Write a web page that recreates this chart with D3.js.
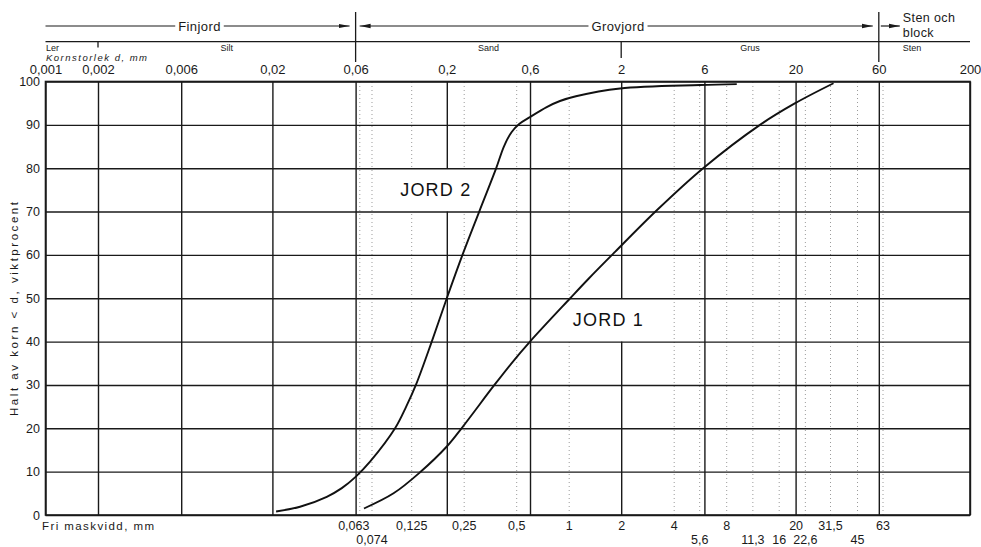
<!DOCTYPE html>
<html>
<head>
<meta charset="utf-8">
<script src="https://cdn.jsdelivr.net/npm/d3@7/dist/d3.min.js"></script>
<style>
    body { margin: 0; background: #fff; }
    svg { display: block; font-family: "Liberation Sans", Arial, sans-serif; }
</style>
</head>
<body>
<svg id="chart" width="981" height="547"></svg>
<script>
// grain sizes (mm) for the solid grid and the top labels
var majorSizes = [0.001, 0.002, 0.006, 0.02, 0.06, 0.2, 0.6, 2, 6, 20, 60, 200];
// sieve openings, bottom labels (two rows) and the faint dotted lines
var sieveRow1 = [0.063, 0.125, 0.25, 0.5, 1, 2, 4, 8, 20, 31.5, 63];
var sieveRow2 = [0.074, 5.6, 11.3, 16, 22.6, 45];
var sieveDotted = [0.063, 0.074, 0.125, 0.25, 0.5, 1, 4, 5.6, 8, 11.3, 16, 22.6, 31.5, 45, 63];
var percentTicks = [0, 10, 20, 30, 40, 50, 60, 70, 80, 90, 100];

// fraction names and their bounds
var fractionNames = ['Ler', 'Silt', 'Sand', 'Grus', 'Sten'];
var fractionBounds = [0.001, 0.002, 0.06, 2, 60, 200];
var groupNames = ['Finjord', 'Grovjord'];
var groupBounds = [0.001, 0.06, 60];

// grading curves
var jord1Size = [0.067, 0.099, 0.14, 0.2, 0.243, 0.375, 0.47, 0.6, 1.02, 1.3, 1.844, 3.2, 5.9, 12.5, 19.9, 33];
var jord1Pass = [1.5, 5, 9.8, 15.8, 20, 30, 35, 40, 50, 54.5, 60.7, 70.3, 80, 90, 95, 99.6];
var jord2Size = [0.021, 0.0288, 0.041, 0.05, 0.06, 0.0726, 0.101, 0.117, 0.133, 0.164, 0.2, 0.246, 0.307, 0.384, 0.425, 0.47, 0.52, 0.6, 0.748, 0.891, 1.1, 1.97, 5.66, 9.2];
var jord2Pass = [0.8, 1.9, 4.2, 6.2, 8.8, 12.3, 20, 25, 30, 40, 50, 60, 70, 80, 85, 88.3, 90.2, 91.8, 94.1, 95.5, 96.6, 98.4, 99.2, 99.4];
var curveNames = ['JORD 1', 'JORD 2'];
var curveLabelSize = [1.69, 0.173];
var curveLabelBand = [40, 70];

var svg = d3.select('#chart');
var plotLeft = 45.5, plotRight = 970, plotTop = 81.5, plotBottom = 515;

var x = d3.scaleLog().domain([0.001, 200]).range([plotLeft, plotRight]);
var y = d3.scaleLinear().domain([0, 100]).range([plotBottom, plotTop]);

var fmt = function(d)
{
    return String(d).replace('.', ',');
};

var ink = '#1a1a1a';
var font = '"Liberation Sans", Arial, sans-serif';

// arrow marker
svg.append('defs').append('marker')
    .attr('id', 'arrow')
    .attr('markerUnits', 'userSpaceOnUse')
    .attr('viewBox', '0 -3 11 6')
    .attr('refX', 11).attr('refY', 0)
    .attr('markerWidth', 11).attr('markerHeight', 6)
    .attr('orient', 'auto-start-reverse')
    .append('path')
    .attr('d', 'M0,-2.2L11,0L0,2.2Z')
    .attr('fill', ink);

var dottedLayer = svg.append('g');
var majorLayer = svg.append('g');
var maskLayer = svg.append('g');
var hGridLayer = svg.append('g');
var curveLayer = svg.append('g');
var labelLayer = svg.append('g');

// faint dotted sieve lines
var dotted = dottedLayer.append('g')
    .attr('transform', 'translate(0,' + plotBottom + ')')
    .call(d3.axisBottom(x).tickValues(sieveDotted).tickSize(-(plotBottom - plotTop)).tickFormat(''));
dotted.select('.domain').remove();
dotted.selectAll('line')
    .attr('stroke', '#9a9a9a')
    .attr('stroke-width', 1)
    .attr('stroke-dasharray', '1,3');

// solid vertical grid
var vGrid = majorLayer.append('g')
    .attr('transform', 'translate(0,' + plotBottom + ')')
    .call(d3.axisBottom(x).tickValues(majorSizes).tickSize(-(plotBottom - plotTop)).tickFormat(''));
vGrid.select('.domain').remove();
vGrid.selectAll('line').attr('stroke', ink).attr('stroke-width', 1.4);

// horizontal grid + percent labels
var yAxis = hGridLayer.append('g')
    .attr('transform', 'translate(' + plotLeft + ',0)')
    .call(d3.axisLeft(y).tickValues(percentTicks).tickSize(-(plotRight - plotLeft)).tickPadding(5.5));
yAxis.select('.domain').remove();
yAxis.selectAll('line').attr('stroke', ink).attr('stroke-width', 1.4);
yAxis.selectAll('text')
    .attr('fill', ink)
    .style('font-size', '12.5px')
    .style('font-family', font);

// frame
hGridLayer.append('rect')
    .attr('x', plotLeft).attr('y', plotTop)
    .attr('width', plotRight - plotLeft).attr('height', plotBottom - plotTop)
    .attr('fill', 'none').attr('stroke', ink).attr('stroke-width', 1.6);

// top size labels
var topAxis = labelLayer.append('g')
    .attr('transform', 'translate(0,' + plotTop + ')')
    .call(d3.axisTop(x).tickValues(majorSizes).tickFormat(fmt).tickSize(0).tickPadding(8));
topAxis.select('.domain').remove();
topAxis.selectAll('text')
    .attr('fill', ink)
    .style('font-size', '13px')
    .style('font-family', font);

// bottom sieve labels, two rows
var rows = [[sieveRow1, 5.8], [sieveRow2, 20.5]];
rows.forEach(function(row)
{
    var g = labelLayer.append('g')
        .attr('transform', 'translate(0,' + plotBottom + ')')
        .call(d3.axisBottom(x).tickValues(row[0]).tickFormat(fmt).tickSize(0).tickPadding(row[1]));
    g.select('.domain').remove();
    g.selectAll('text')
        .attr('fill', ink)
        .style('font-size', '12.5px')
        .style('font-family', font)
        .attr('dx', function(d) { return d === 0.063 ? -6 : 0; });
});

labelLayer.append('text')
    .attr('x', 42).attr('y', 530)
    .attr('fill', ink)
    .style('font-size', '11.5px')
    .attr('textLength', 112).attr('lengthAdjust', 'spacing')
    .text('Fri maskvidd, mm');

// y axis title
labelLayer.append('text')
    .attr('transform', 'translate(18,309) rotate(-90)')
    .attr('text-anchor', 'middle')
    .attr('fill', ink)
    .style('font-size', '11.5px')
    .attr('textLength', 214).attr('lengthAdjust', 'spacing')
    .text('Halt av korn < d, viktprocent');

// header: fraction row
var header = svg.append('g');
var sepY = 41.7;
header.append('line')
    .attr('x1', plotLeft).attr('x2', plotRight)
    .attr('y1', sepY).attr('y2', sepY)
    .attr('stroke', ink).attr('stroke-width', 1.3);

// dividers Finjord/Grovjord/Sten
[0.06, 60].forEach(function(d)
{
    header.append('line')
        .attr('x1', x(d)).attr('x2', x(d))
        .attr('y1', 12).attr('y2', 62)
        .attr('stroke', ink).attr('stroke-width', 1.3);
});
// short ticks Ler/Silt and Sand/Grus
[[0.002, 47.5], [2, 58]].forEach(function(t)
{
    header.append('line')
        .attr('x1', x(t[0])).attr('x2', x(t[0]))
        .attr('y1', sepY).attr('y2', t[1])
        .attr('stroke', ink).attr('stroke-width', 1.3);
});

fractionNames.forEach(function(name, i)
{
    var a = fractionBounds[i], b = fractionBounds[i + 1];
    var t = header.append('text')
        .attr('y', 50.5)
        .attr('fill', ink)
        .style('font-size', '9px')
        .text(name);
    if(i === 0)
    {
        t.attr('x', x(a) + 0.5);
    }
    else if(i === fractionNames.length - 1)
    {
        t.attr('x', x(a) + 24);
    }
    else
    {
        t.attr('x', x(Math.sqrt(a * b))).attr('text-anchor', 'middle');
    }
});

header.append('text')
    .attr('x', 46).attr('y', 61)
    .attr('fill', ink)
    .style('font-size', '9.5px')
    .style('font-style', 'italic')
    .attr('textLength', 101).attr('lengthAdjust', 'spacing')
    .text('Kornstorlek d, mm');

// header: group arrows
var arrowY = 26;
var groupLabelX = [199.5, 618];
groupNames.forEach(function(name, i)
{
    var a = x(groupBounds[i]), b = x(groupBounds[i + 1]);
    var t = header.append('text')
        .attr('x', groupLabelX[i]).attr('y', arrowY + 4.5)
        .attr('text-anchor', 'middle')
        .attr('fill', ink)
        .style('font-size', '13px')
        .style('letter-spacing', '0.4px')
        .text(name);
    var bb = t.node().getBBox();
    var leftLine = header.append('line')
        .attr('y1', arrowY).attr('y2', arrowY)
        .attr('x2', bb.x - 3)
        .attr('stroke', ink).attr('stroke-width', 1.2);
    if(i === 0)
    {
        leftLine.attr('x1', a);
    }
    else
    {
        leftLine.attr('x1', a + 4).attr('marker-start', 'url(#arrow)');
    }
    header.append('line')
        .attr('y1', arrowY).attr('y2', arrowY)
        .attr('x1', bb.x + bb.width + 3).attr('x2', b - 6)
        .attr('stroke', ink).attr('stroke-width', 1.2)
        .attr('marker-end', 'url(#arrow)');
});
header.append('line')
    .attr('y1', arrowY).attr('y2', arrowY)
    .attr('x1', x(60) + 2).attr('x2', x(60) + 21)
    .attr('stroke', ink).attr('stroke-width', 1.2)
    .attr('marker-end', 'url(#arrow)');
header.append('text')
    .attr('x', x(60) + 24).attr('y', 21.5)
    .attr('fill', ink)
    .style('font-size', '12.5px')
    .style('letter-spacing', '0.4px')
    .text('Sten och');
header.append('text')
    .attr('x', x(60) + 24).attr('y', 37)
    .attr('fill', ink)
    .style('font-size', '12.5px')
    .style('letter-spacing', '0.4px')
    .text('block');

// grading curves
var line = d3.line()
    .x(function(d) { return x(d[0]); })
    .y(function(d) { return y(d[1]); })
    .curve(d3.curveCatmullRom.alpha(0.5));

var curves = [d3.zip(jord1Size, jord1Pass), d3.zip(jord2Size, jord2Pass)];
curveLayer.selectAll('path.curve').data(curves)
    .enter().append('path')
    .classed('curve', true)
    .attr('d', line)
    .attr('fill', 'none')
    .attr('stroke', '#111')
    .attr('stroke-width', 1.9);

// curve labels, with white boxes that hide the vertical grid behind them
curveNames.forEach(function(name, i)
{
    var band = curveLabelBand[i];
    var t = labelLayer.append('text')
        .attr('x', x(curveLabelSize[i]))
        .attr('y', y(band + 5))
        .attr('dy', '0.36em')
        .attr('text-anchor', 'middle')
        .attr('fill', '#111')
        .style('font-size', '18px')
        .style('letter-spacing', '1.2px')
        .text(name);
    var bb = t.node().getBBox();
    maskLayer.append('rect')
        .attr('x', bb.x - 5)
        .attr('width', bb.width + 10)
        .attr('y', y(band + 10))
        .attr('height', y(band) - y(band + 10))
        .attr('fill', '#fff');
});
</script>
</body>
</html>
